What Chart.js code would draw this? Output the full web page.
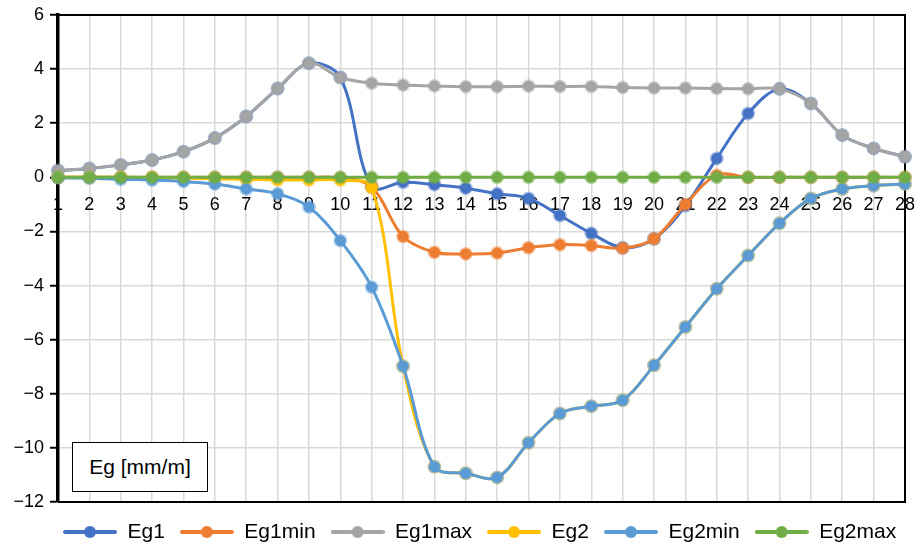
<!DOCTYPE html>
<html><head><meta charset="utf-8">
<script src="https://cdn.jsdelivr.net/npm/chart.js@4/dist/chart.umd.min.js"></script>
<style>
html,body{margin:0;padding:0;background:#fff;}
#wrap{position:relative;width:915px;height:546px;overflow:hidden;}
#c{display:block;}
#unit{position:absolute;left:72px;top:442px;width:136px;height:50px;border:1.5px solid #000;background:#fff;font:21px 'Liberation Sans',Arial,sans-serif;color:#000;display:flex;align-items:center;justify-content:center;box-sizing:border-box;}
</style></head><body>
<div id="wrap"><canvas id="c" width="915" height="546" style="width:915px;height:546px"></canvas><div id="unit">Eg [mm/m]</div></div>
<script>
const categories = ['1','2','3','4','5','6','7','8','9','10','11','12','13','14','15','16','17','18','19','20','21','22','23','24','25','26','27','28'];
const seriesNames = ['Eg1','Eg1min','Eg1max','Eg2','Eg2min','Eg2max'];
const eg1 = [0.25,0.33,0.46,0.64,0.95,1.45,2.25,3.28,4.22,3.69,-0.35,-0.18,-0.27,-0.4,-0.61,-0.78,-1.41,-2.07,-2.6,-2.27,-1.05,0.7,2.36,3.27,2.73,1.56,1.07,0.76];
const eg1min = [0,0,0,0,0,0,0,0,0,-0.02,-0.35,-2.19,-2.77,-2.83,-2.8,-2.6,-2.49,-2.52,-2.62,-2.27,-1.0,0.08,0,0,0,0,0,0];
const eg1max = [0.25,0.33,0.46,0.64,0.95,1.45,2.25,3.28,4.22,3.69,3.48,3.41,3.38,3.35,3.35,3.37,3.36,3.36,3.32,3.30,3.30,3.28,3.27,3.27,2.73,1.56,1.07,0.76];
const eg2 = [0,0,0,-0.02,-0.03,-0.05,-0.07,-0.1,-0.1,-0.1,-0.38,-6.98,-10.7,-10.94,-11.09,-9.81,-8.73,-8.46,-8.24,-6.95,-5.53,-4.12,-2.89,-1.7,-0.78,-0.43,-0.31,-0.25];
const eg2min = [-0.02,-0.03,-0.07,-0.1,-0.15,-0.25,-0.43,-0.61,-1.1,-2.34,-4.06,-6.98,-10.7,-10.94,-11.09,-9.81,-8.73,-8.46,-8.24,-6.95,-5.53,-4.12,-2.89,-1.7,-0.78,-0.43,-0.31,-0.25];
const eg2max = [0,0,0,0,0,0,0,0,0,0,0,0,0,0,0,0,0,0,0,0,0,0,0,0,0,0,0,0];
const yMin = -12, yMax = 6, yStep = 2;

const seriesValues = [eg1, eg1min, eg1max, eg2, eg2min, eg2max];
const colors = ['#4472C4','#ED7D31','#A5A5A5','#FFC000','#5B9BD5','#70AD47'];
const soft = ['rgba(68,114,196,0.45)','rgba(237,125,49,0.45)','rgba(165,165,165,0.45)','rgba(255,192,0,0.45)','rgba(91,155,213,0.45)','rgba(112,173,71,0.45)'];
const FONT = "'Liberation Sans', Arial, sans-serif";
const LEGEND_PAD = 15;

function legendIcon(color){
  const cv = document.createElement('canvas');
  cv.width = 54; cv.height = 14;
  const g = cv.getContext('2d');
  g.strokeStyle = color; g.lineWidth = 4; g.lineCap = 'round';
  g.beginPath(); g.moveTo(2,7); g.lineTo(52,7); g.stroke();
  g.fillStyle = color; g.beginPath(); g.arc(27,7,6,0,Math.PI*2); g.fill();
  return cv;
}
const icons = colors.map(legendIcon);

const datasets = seriesNames.map((name,i)=>({
  label: name,
  data: seriesValues[i],
  borderColor: colors[i],
  backgroundColor: colors[i],
  borderWidth: 3,
  pointRadius: 5.5,
  pointBorderWidth: 3,
  pointBackgroundColor: colors[i],
  pointBorderColor: soft[i],
  pointHoverRadius: 5.5,
  tension: 0.35,
  fill: false,
  clip: false,
  order: seriesNames.length - i
}));

const framePlugin = {
  id: 'frame',
  afterLayout(chart){
    const L = chart.legend;
    if (L && L.lineWidths) {
      const start = (L.left + LEGEND_PAD + L.right - L.lineWidths[0]) / 2;
      const dx = 63 - start;
      L.left += dx; L.right += dx;
      L.top += 4.5; L.bottom += 4.5;
    }
  },
  beforeDatasetsDraw(chart){
    const {ctx, chartArea:a} = chart;
    ctx.save();
    ctx.strokeStyle = '#000'; ctx.lineWidth = 2;
    ctx.beginPath();
    ctx.moveTo(a.left, a.top); ctx.lineTo(a.right, a.top);
    ctx.lineTo(a.right, a.bottom); ctx.lineTo(a.left, a.bottom);
    ctx.stroke();
    ctx.restore();
  }
};

new Chart(document.getElementById('c'), {
  type: 'line',
  data: { labels: categories, datasets },
  plugins: [framePlugin],
  options: {
    responsive: false,
    animation: false,
    events: [],
    layout: { padding: { top: 14, right: 9, left: 0, bottom: 0 } },
    plugins: {
      tooltip: { enabled: false },
      legend: {
        position: 'bottom',
        fullSize: true,
        maxHeight: 44,
        labels: {
          usePointStyle: true,
          pointStyleWidth: 54,
          boxHeight: 14,
          padding: LEGEND_PAD,
          color: '#000',
          font: { family: FONT, size: 21 },
          sort: (a,b) => a.datasetIndex - b.datasetIndex,
          generateLabels: (chart) => chart.data.datasets.map((ds,i)=>({
            text: ds.label, datasetIndex: i, pointStyle: icons[i],
            fillStyle: ds.borderColor, strokeStyle: ds.borderColor, lineWidth: 0,
            hidden: false, fontColor: '#000'
          }))
        }
      }
    },
    scales: {
      x: {
        type: 'category',
        position: { y: 0 },
        offset: false,
        grid: { color: '#d9d9d9', lineWidth: 1.5, drawTicks: true, tickLength: 17, tickColor: 'rgba(0,0,0,0)' },
        border: { display: false },
        ticks: { color: '#000', font: { family: FONT, size: 18 }, padding: 0, maxRotation: 0, autoSkip: false }
      },
      y: {
        min: yMin, max: yMax,
        ticks: { stepSize: yStep, color: '#000', font: { family: FONT, size: 18, lineHeight: 1.0 }, padding: 6,
          callback: v => String(v).replace('-', '\u2212') },
        grid: { color: '#d9d9d9', lineWidth: 1.5, tickColor: '#000', tickLength: 8, tickWidth: 2 },
        border: { color: '#000', width: 3.5 },
        afterFit: s => { s.width = 58; }
      }
    }
  }
});
</script>
</body></html>
